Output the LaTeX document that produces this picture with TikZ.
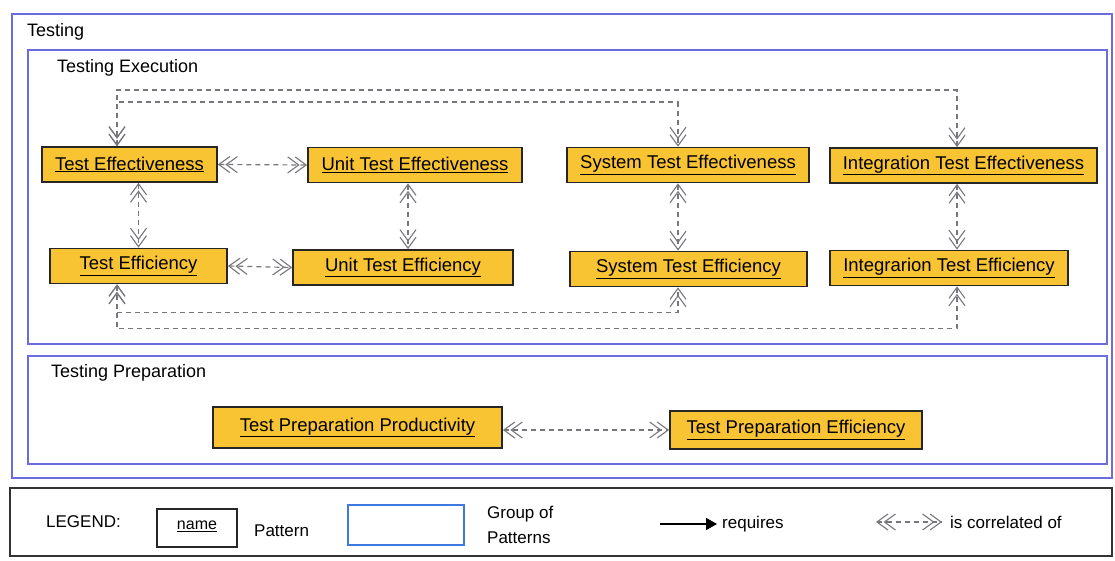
\documentclass[tikz,border=0pt]{standalone}
\usepackage{fontspec}
\setmainfont{Liberation Sans}
\usepackage{xcolor}
\usetikzlibrary{arrows.meta}
\definecolor{patfill}{RGB}{249,196,52}
\definecolor{grpblue}{RGB}{108,108,222}
\definecolor{legblue}{RGB}{64,120,225}
\definecolor{corgray}{RGB}{118,118,124}

\begin{document}
\begin{tikzpicture}[x=1pt,y=-1pt,
    patbox/.style={draw=black!85,line width=1.8pt,fill=patfill,minimum height=35pt,inner sep=0pt,font=\fontsize{18.5}{22}\selectfont},
    grp/.style={draw=grpblue,line width=2.2pt},
    grplabel/.style={anchor=west,inner sep=0pt,font=\fontsize{18}{22}\selectfont},
    leg/.style={anchor=west,inner sep=0pt,font=\fontsize{17}{25}\selectfont},
    cor/.tip={Straight Barb[length=11pt,width=16pt,line width=1.1pt,sep=-5pt] Straight Barb[length=11pt,width=16pt,line width=1.1pt]},
    correl/.style={draw=corgray,line width=1.2pt,dash pattern=on 5pt off 4pt,cor-cor}]
    \useasboundingbox (0,0) rectangle (1115,561);

    % groups
    \draw[grp] (12,14) rectangle (1112,478);
    \node[grplabel] (ltesting) at (27,32) {Testing};
    \draw[grp] (28,50) rectangle (1107,344);
    \node[grplabel] (lexec) at (57,68) {Testing Execution};
    \draw[grp] (28,356) rectangle (1107,464);
    \node[grplabel] (lprep) at (51,373) {Testing Preparation};

    % patterns
    \node[patbox,minimum width=175pt] (te) at (129.5,164.5) {\underline{Test Effectiveness}};
    \node[patbox,minimum width=214pt] (ute) at (415,165) {\underline{Unit Test Effectiveness}};
    \node[patbox,minimum width=242pt] (ste) at (688,165) {\underline{System Test Effectiveness}};
    \node[patbox,minimum width=267pt] (ite) at (963.5,165.5) {\underline{Integration Test Effectiveness}};
    \node[patbox,minimum width=177pt] (tef) at (138.5,266) {\underline{Test Efficiency}};
    \node[patbox,minimum width=220pt] (utef) at (403,267.5) {\underline{Unit Test Efficiency}};
    \node[patbox,minimum width=237pt] (stef) at (688.5,269) {\underline{System Test Efficiency}};
    \node[patbox,minimum width=238pt] (itef) at (949,268) {\underline{Integrarion Test Efficiency}};
    \node[patbox,minimum width=289pt,minimum height=41pt] (tpp) at (357.5,427.5) {\underline{Test Preparation Productivity}};
    \node[patbox,minimum width=252pt,minimum height=38pt] (tpe) at (796,430) {\underline{Test Preparation Efficiency}};

    % correlations
    \draw[correl] (te.east) -- (ute.west);
    \draw[correl] (tef.east) -- (utef.west);
    \draw[correl] (tef.north |- te.south) -- (tef.north);
    \draw[correl] ([xshift=-7pt]ute.south) -- ([xshift=5pt]utef.north);
    \draw[correl] ([xshift=-10pt]ste.south) -- ([xshift=-10.5pt]stef.north);
    \draw[correl] ([xshift=-6.5pt]ite.south) -- ([xshift=8pt]itef.north);
    \draw[correl] ([xshift=-12.5pt]te.north) -- ++(0,-56) -| ([xshift=-6.5pt]ite.north);
    \draw[correl] ([xshift=-12.5pt]te.north) -- ++(0,-44) -| ([xshift=-10pt]ste.north);
    \draw[correl] ([xshift=-21.5pt]tef.south) -- ++(0,28) -| ([xshift=-10.5pt]stef.south);
    \draw[correl] ([xshift=-21.5pt]tef.south) -- ++(0,44) -| ([xshift=8pt]itef.south);
    \draw[correl] (tpe.west -| tpp.east) -- (tpe.west);

    % legend
    \draw[draw=black!80,line width=2pt] (10,488) rectangle (1112,556);
    \node[leg] (legend) at (46,522) {LEGEND:};
    \node[draw=black!85,line width=1.8pt,minimum width=80pt,minimum height=38pt,inner sep=0pt,font=\fontsize{16}{18}\selectfont] (lname) at (197,528) {\raisebox{6pt}{\underline{name}}};
    \node[leg] (lpat) at (254,531) {Pattern};
    \node[draw=legblue,line width=2pt,minimum width=116pt,minimum height=40pt] (lgrp) at (406,525) {};
    \node[leg,align=left] (lgrptxt) at (487,525) {Group of\\Patterns};
    \coordinate (req0) at (660,524);
    \node[leg] (lreq) at (722,524) {requires};
    \draw[line width=1.5pt,-{Triangle[length=11pt,width=12pt]},shorten >=5pt] (req0) -- (lreq.west);
    \coordinate (cor0) at (876,522);
    \node[leg] (lcor) at (950,522) {is correlated of};
    \draw[correl,shorten >=8pt] (cor0) -- (lcor.west);
\end{tikzpicture}
\end{document}
